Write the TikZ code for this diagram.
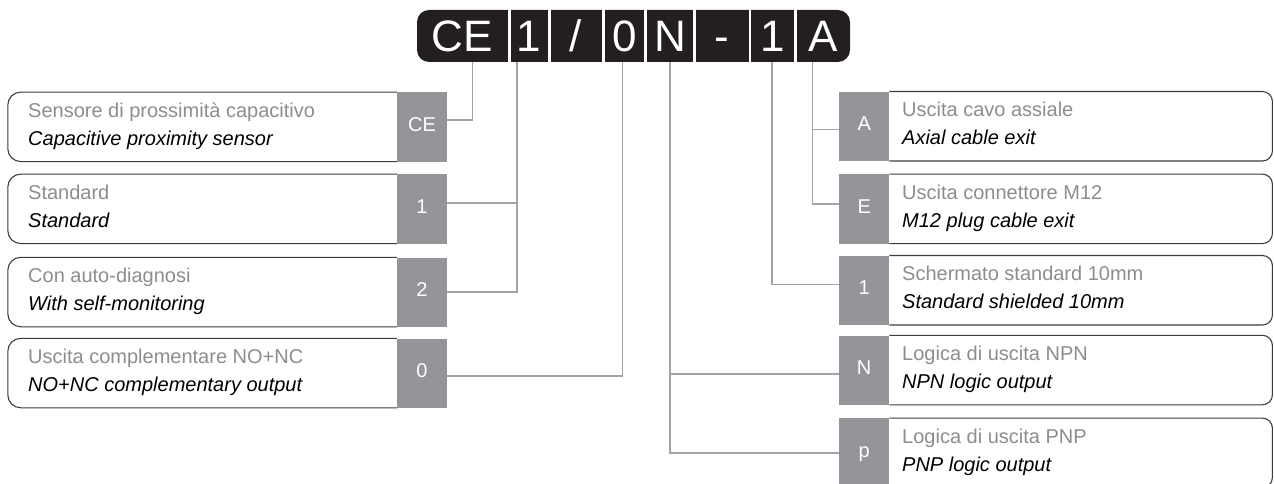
\documentclass[tikz,border=0pt]{standalone}
\usepackage{fontspec}
\setmainfont{Liberation Sans}
\definecolor{tagc}{HTML}{939598}
\definecolor{wirec}{HTML}{A2A4A7}
\definecolor{codec}{HTML}{231F20}
\definecolor{itac}{HTML}{8C8D8F}
\definecolor{framec}{HTML}{3C3C3C}
\begin{document}
\begin{tikzpicture}[x=1pt,y=-1pt,
  tag/.style={fill=tagc,text=white,minimum width=50pt,minimum height=69.5pt,inner sep=0pt,
    text height=14pt,text depth=5pt,font=\fontsize{20}{20}\selectfont},
  cell/.style={minimum height=52pt,inner sep=0pt,text=white,text height=32pt,text depth=0pt,
    font=\fontsize{44}{44}\selectfont},
  wire/.style={draw=wirec,line width=1.8pt},
  lframe/.style={draw=framec,line width=1.1pt,rounded corners=13pt},
  rframe/.style={draw=framec,line width=1.1pt,rounded corners=10pt},
  ita/.style={anchor=base west,inner sep=0pt,text=itac,font=\fontsize{20}{20}\selectfont},
  eng/.style={anchor=base west,inner sep=0pt,text=black,font=\fontsize{20}{20}\selectfont\itshape}]
\useasboundingbox (0,0) rectangle (1274,484);
\clip (0,0) rectangle (1274,484);
% code bar CE1/0N-1A
\fill[codec,rounded corners=12pt] (417,10) rectangle (850,62);
\foreach \g in {507.7,547.7,602,644,693,748.5,794}
  \fill[white] (\g,8) rectangle (\g+2.8,64);
\node[cell,minimum width=90.7pt] (cCE) at (462.4,36) {CE};
\node[cell,minimum width=37.7pt] (c1) at (528.9,36) {1};
\node[cell,minimum width=52pt] (cSl) at (576,36) {/};
\node[cell,minimum width=39pt] (c0) at (624.5,36) {0};
\node[cell,minimum width=46pt] (cN) at (670,36) {N};
\node[cell,minimum width=52pt] (cDash) at (722,36) {-};
\node[cell,minimum width=42pt] (c1b) at (773,36) {1};
\node[cell,minimum width=53pt] (cA) at (823.5,36) {A};

\foreach \n/\t/\a/\b in {CE/92.3/Sensore di prossimità capacitivo/Capacitive proximity sensor,
    1/174.3/Standard/Standard,
    2/257.5/Con auto-diagnosi/With self-monitoring,
    0/338.5/Uscita complementare NO+NC/NO+NC complementary output} {
  \node[tag] (l\n) at (422,\t+34.75) {\n};
  \draw[lframe] (l\n.north west) -- ++(-389,0) -- ++(0,69.5) -- ++(389,0);
  \node[ita] (la\n) at (28,\t+25) {\a};
  \node[eng] (lb\n) at (28,\t+53) {\b};
}
\foreach \n/\l/\t/\a/\b in {A/A/91.7/Uscita cavo assiale/Axial cable exit,
    E/E/174.3/Uscita connettore M12/M12 plug cable exit,
    1/1/255.7/Schermato standard 10mm/Standard shielded 10mm,
    N/N/335.5/Logica di uscita NPN/NPN logic output,
    P/p/418.3/Logica di uscita PNP/PNP logic output} {
  \node[tag] (r\n) at (864.2,\t+34.75) {\l};
  \draw[rframe] (r\n.north east) -- ++(383,0) -- ++(0,69.5) -- ++(-383,0);
  \node[ita] (ra\n) at (902,\t+25) {\a};
  \node[eng] (rb\n) at (902,\t+53) {\b};
}

\draw[wire] ([xshift=10pt]cCE.south) |- ([yshift=7pt]lCE.east);
\draw[wire] ([xshift=-12pt]c1.south) |- ([yshift=6pt]l1.east);
\draw[wire] ([xshift=-12pt]c1.south) |- (l2.east);
\draw[wire] ([xshift=-2pt]c0.south) |- ([yshift=-3pt]l0.east);
\draw[wire] (cN.south) |- ([yshift=-4pt]rN.west);
\draw[wire] (cN.south) |- (rP.west);
\draw[wire] ([xshift=-1pt]c1b.south) |- ([yshift=6pt]r1.west);
\draw[wire] ([xshift=-11pt]cA.south) |- ([yshift=-3pt]rA.west);
\draw[wire] ([xshift=-11pt]cA.south) |- ([yshift=5pt]rE.west);
\end{tikzpicture}
\end{document}
